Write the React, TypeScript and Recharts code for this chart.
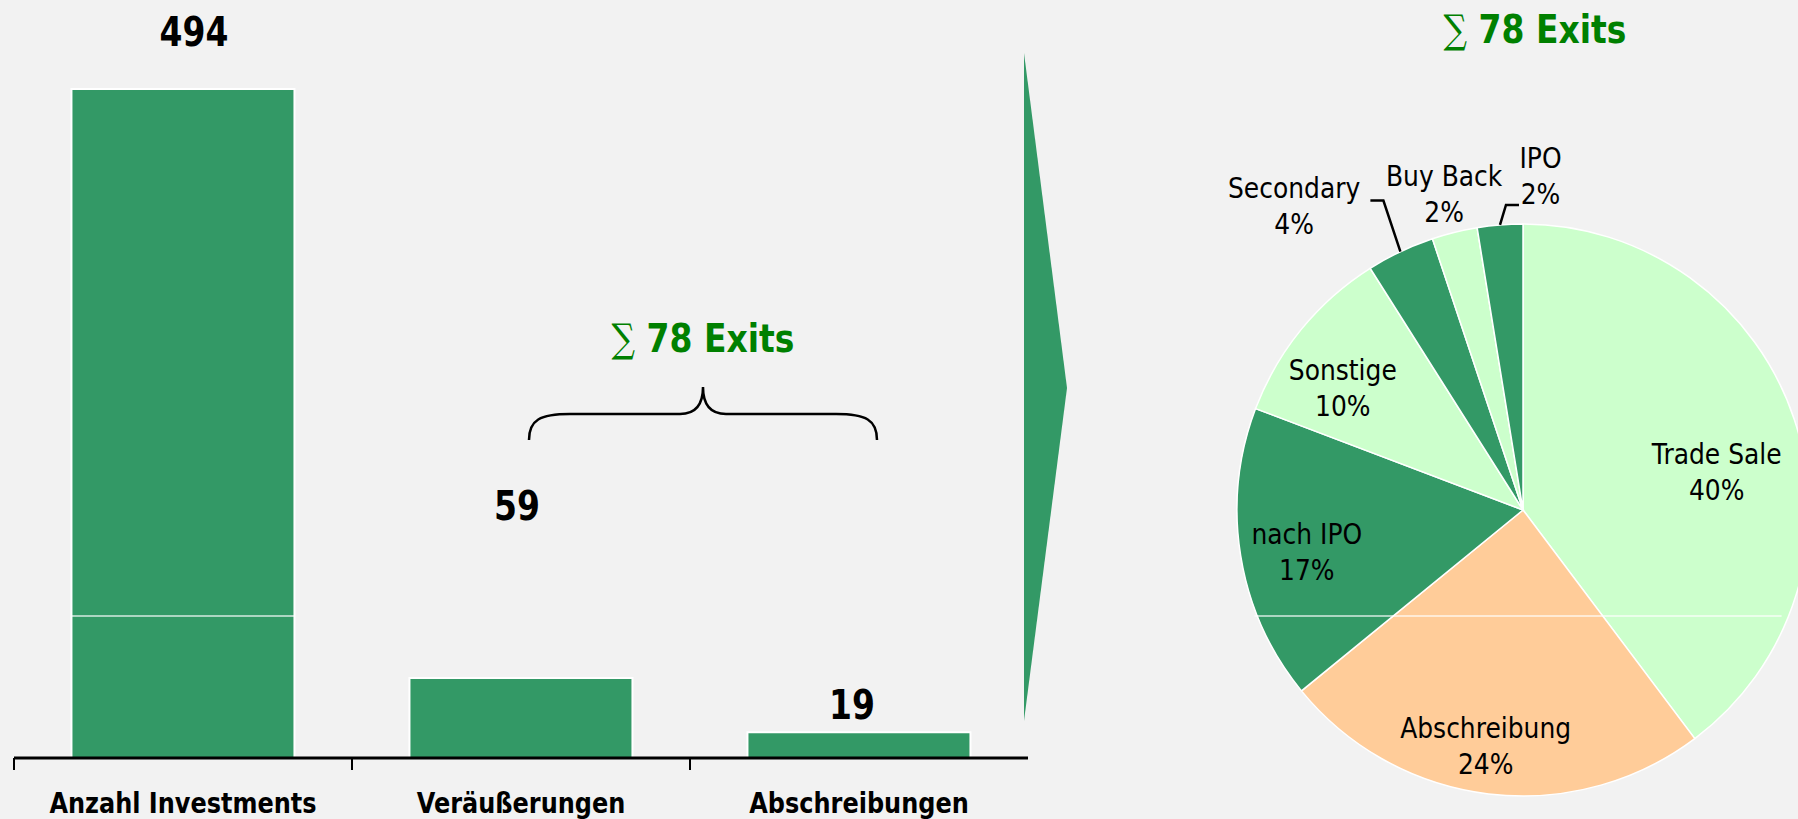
import React from 'react';
import { BarChart, Bar, XAxis, YAxis, LabelList, PieChart, Pie, Cell } from 'recharts';

// Left chart: investments vs. exits
const categories = ['Anzahl Investments', 'Veräußerungen', 'Abschreibungen'];
const counts = [494, 59, 19];

// Right chart: exit channels (counts, total 78)
const exitTypes = ['Trade Sale', 'Abschreibung', 'nach IPO', 'Sonstige', 'Secondary', 'Buy Back', 'IPO'];
const exitCounts = [31, 19, 13, 8, 3, 2, 2];
const exitPercentLabels = ['40%', '24%', '17%', '10%', '4%', '2%', '2%'];
const exitColors = ['#ccffcc', '#ffcc99', '#339966', '#ccffcc', '#339966', '#ccffcc', '#339966'];

const totalExits = exitCounts.reduce((a, b) => a + b, 0);

const BG = '#f2f2f2';
const GREEN = '#339966';
const TEXT_GREEN = '#008000';
const BOLD_FONT = '"DejaVu Sans", Verdana, sans-serif';

// label placement tweaks (px relative to bar top / centre)
const barLabelOffsets = [
  { dx: 11, dy: -43 },
  { dx: -4, dy: -158 },
  { dx: -7, dy: -13 },
];

// pie label placement in polar coords (angle deg, radius as share of outer radius)
const pieLabelPos = [
  { angle: 11, r: 0.69 },
  { angle: -99, r: 0.835 },
  { angle: -169, r: 0.77 },
  { angle: 146, r: 0.76 },
  { angle: 127, r: 1.33, leader: { dx1: -17, dy1: -51, dx2: -13 } },
  { angle: 104, r: 1.14 },
  { angle: 87, r: 1.17, leader: { dx1: 6, dy1: -20, dx2: 13 } },
];

const barData = categories.map((name, i) => ({ name, value: counts[i] }));
const pieData = exitTypes.map((name, i) => ({ name, value: exitCounts[i] }));

const RAD = Math.PI / 180;
const PIE_LEFT = 1100;
const PIE_CX = 418;
const PIE_CY = 505;
const PIE_R = 286;
const SEAM_Y = 616; // faint white seam visible in the original picture

const StretchText = ({ x, y, sy = 1.2, size, weight = 'bold', fill = '#000', family = BOLD_FONT, children }: any) => (
  <text
    transform={`translate(${x},${y}) scale(1,${sy})`}
    textAnchor="middle"
    fontFamily={family}
    fontWeight={weight}
    fontSize={size}
    fill={fill}
  >
    {children}
  </text>
);

const CategoryTick = (props: any) => {
  const { x, y, payload } = props;
  const half = payload && payload.offset ? payload.offset : 169;
  return (
    <g>
      <line x1={x - half} y1={y} x2={x - half} y2={y + 12} stroke="#000" strokeWidth={2} />
      <StretchText x={x} y={y + 55} size={24}>{payload.value}</StretchText>
    </g>
  );
};

const BarValueLabel = (props: any) => {
  const { x, y, width, value, index } = props;
  const off = barLabelOffsets[index] || { dx: 0, dy: -10 };
  return (
    <g>
      {index === 0 && (
        <line x1={x} x2={x + width} y1={SEAM_Y} y2={SEAM_Y} stroke="#fff" strokeOpacity={0.8} strokeWidth={1.5} />
      )}
      <StretchText x={x + width / 2 + off.dx} y={y + off.dy} size={33} sy={1.22}>
        {value}
      </StretchText>
    </g>
  );
};

const PieLabel = (props: any) => {
  const { cx, cy, outerRadius, index } = props;
  const pos = pieLabelPos[index];
  const lx = cx + outerRadius * pos.r * Math.cos(pos.angle * RAD);
  const ly = cy - outerRadius * pos.r * Math.sin(pos.angle * RAD);
  let leader = null;
  if (pos.leader) {
    const mid = props.midAngle;
    const x0 = cx + outerRadius * Math.cos(mid * RAD);
    const y0 = cy - outerRadius * Math.sin(mid * RAD);
    const x1 = x0 + pos.leader.dx1;
    const y1 = y0 + pos.leader.dy1;
    leader = (
      <polyline
        points={`${x0},${y0} ${x1},${y1} ${x1 + pos.leader.dx2},${y1}`}
        fill="none"
        stroke="#000"
        strokeWidth={2.5}
      />
    );
  }
  return (
    <g>
      {leader}
      <StretchText x={lx} y={ly - 8} size={25} sy={1.1} weight="normal">{exitTypes[index]}</StretchText>
      <StretchText x={lx} y={ly + 28} size={25} sy={1.1} weight="normal">{exitPercentLabels[index]}</StretchText>
    </g>
  );
};

const SumLabel = ({ x, y }: { x: number; y: number }) => (
  <text
    transform={`translate(${x},${y}) scale(1,1.2)`}
    textAnchor="middle"
    fontFamily={BOLD_FONT}
    fontSize={33}
    fontWeight="bold"
    fill={TEXT_GREEN}
  >
    <tspan fontWeight="normal" fontFamily='"DejaVu Serif", serif'>∑</tspan>
    <tspan> {totalExits} Exits</tspan>
  </text>
);

const seamHalf = Math.sqrt(PIE_R * PIE_R - (SEAM_Y - PIE_CY) * (SEAM_Y - PIE_CY));

export default function App() {
  return (
    <div style={{ position: 'absolute', left: 0, top: 0, width: 1798, height: 819, background: BG, overflow: 'hidden' }}>
      <div style={{ position: 'absolute', left: 0, top: 0 }}>
        <BarChart width={1040} height={819} data={barData} margin={{ top: 89, right: 12, left: 14, bottom: 5 }} barCategoryGap="17%">
          <YAxis hide domain={[0, 494]} />
          <XAxis
            dataKey="name"
            height={56}
            interval={0}
            axisLine={{ stroke: '#000', strokeWidth: 3 }}
            tickLine={false}
            tickSize={0}
            tickMargin={0}
            tick={<CategoryTick />}
          />
          <Bar dataKey="value" fill={GREEN} stroke="#fff" strokeWidth={2} isAnimationActive={false}>
            <LabelList dataKey="value" content={<BarValueLabel />} />
          </Bar>
        </BarChart>
      </div>

      <div style={{ position: 'absolute', left: PIE_LEFT, top: 0 }}>
        <PieChart width={698} height={819}>
          <Pie
            data={pieData}
            dataKey="value"
            nameKey="name"
            cx={PIE_CX}
            cy={PIE_CY}
            outerRadius={PIE_R}
            startAngle={90}
            endAngle={-270}
            stroke="#fff"
            strokeWidth={1.5}
            label={PieLabel}
            labelLine={false}
            isAnimationActive={false}
          >
            {pieData.map((d, i) => (
              <Cell key={d.name} fill={exitColors[i]} />
            ))}
          </Pie>
        </PieChart>
      </div>

      <svg width={1798} height={819} style={{ position: 'absolute', left: 0, top: 0, pointerEvents: 'none' }}>
        {/* arrow between the charts */}
        <polygon points="1024,53 1067,388 1024,721" fill={GREEN} />
        {/* brace over the two exit bars */}
        <path
          d="M529,440 C529,420 540,414 570,414 L680,414 C695,414 703,405 703,387 C703,405 711,414 726,414 L836,414 C866,414 877,420 877,440"
          fill="none"
          stroke="#000"
          strokeWidth={2.5}
        />
        <line
          x1={PIE_LEFT + PIE_CX - seamHalf}
          x2={PIE_LEFT + PIE_CX + seamHalf}
          y1={SEAM_Y}
          y2={SEAM_Y}
          stroke="#fff"
          strokeOpacity={0.8}
          strokeWidth={1.5}
        />
        <SumLabel x={703} y={352} />
        <SumLabel x={1535} y={43} />
      </svg>
    </div>
  );
}
